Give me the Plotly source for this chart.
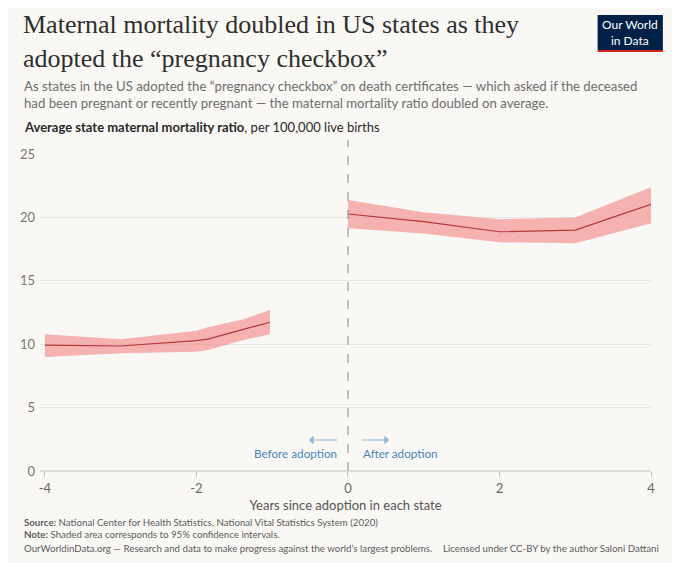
import plotly.graph_objects as go

# Years relative to adoption of the pregnancy checkbox
before_years = [-4, -3, -2, -1.85, -1.38, -1.03]
before_ratio = [9.93, 9.86, 10.28, 10.4, 11.17, 11.73]
before_upper = [10.78, 10.39, 11.06, 11.33, 11.96, 12.7]
before_lower = [9.0, 9.28, 9.41, 9.54, 10.33, 10.78]

after_years = [0, 1, 2, 3, 4]
after_ratio = [20.27, 19.66, 18.87, 19.0, 21.03]
after_upper = [21.37, 20.4, 19.85, 20.0, 22.37]
after_lower = [19.14, 18.74, 18.04, 17.96, 19.53]

y_ticks = [0, 5, 10, 15, 20, 25]
x_ticks = [-4, -2, 0, 2, 4]
x_tick_labels = ["-4", "-2", "0", "2", "4"]

W, H = 680, 563
OFF = 8  # page body margin in the screenshot
L, R, T, B = 33 - OFF, W - (651 - OFF), 154 - OFF, H - (471 - OFF)
PW, PH = W - L - R, H - T - B


def px(x):
    return (x - OFF - L) / PW


def py(y):
    return (H - B - (y - OFF)) / PH


BAND = "rgba(242,140,140,0.65)"
LINE = "#b5373a"
FONT = "Lato, 'Noto Sans', sans-serif"

fig = go.Figure()
for xs, mid, up, lo in [(before_years, before_ratio, before_upper, before_lower),
                        (after_years, after_ratio, after_upper, after_lower)]:
    fig.add_trace(go.Scatter(x=xs + xs[::-1], y=up + lo[::-1], fill="toself",
                             fillcolor=BAND, line=dict(width=0), mode="lines",
                             hoverinfo="skip", showlegend=False))
    fig.add_trace(go.Scatter(x=xs, y=mid, mode="lines", line=dict(color=LINE, width=1.2),
                             showlegend=False))

# dashed line at adoption
fig.add_shape(type="line", x0=0, x1=0, xref="x", yref="paper", y0=0, y1=py(140),
              line=dict(color="#9a9a9a", width=1.2, dash="dash"))

# logo
fig.add_shape(type="rect", xref="paper", yref="paper", x0=px(597), x1=px(663),
              y0=py(50), y1=py(15), fillcolor="#002147", line=dict(width=0), layer="above")
fig.add_shape(type="rect", xref="paper", yref="paper", x0=px(597), x1=px(663),
              y0=py(52), y1=py(50), fillcolor="#ce261e", line=dict(width=0), layer="above")

ann = [
    dict(x=px(14), y=py(41), xanchor="left", yanchor="middle", align="left",
         text="Maternal mortality doubled in US states as they<br>adopted the “pregnancy checkbox”",
         font=dict(family="'Liberation Serif', 'DejaVu Serif', serif", size=26, color="#2f2f2f")),
    dict(x=px(630), y=py(33), xanchor="center", yanchor="middle",
         text="Our World<br>in Data", font=dict(family=FONT, size=12, color="white")),
    dict(x=px(15), y=py(94), xanchor="left", yanchor="middle", align="left",
         text="As states in the US adopted the “pregnancy checkbox” on death certificates — which asked if the deceased"
              "<br>had been pregnant or recently pregnant — the maternal mortality ratio doubled on average.",
         font=dict(family=FONT, size=13.2, color="#6e6e6e")),
    dict(x=px(15), y=py(127), xanchor="left", yanchor="middle",
         text="<b>Average state maternal mortality ratio</b>, per 100,000 live births",
         font=dict(family=FONT, size=13, color="#2a2a2a")),
    dict(x=px(335), y=py(453), xanchor="right", yanchor="middle",
         text="Before adoption", font=dict(family=FONT, size=11.7, color="#4a86be")),
    dict(x=px(358), y=py(453), xanchor="left", yanchor="middle",
         text="After adoption", font=dict(family=FONT, size=11.7, color="#4a86be")),
    dict(x=px(15), y=py(522), xanchor="left", yanchor="middle",
         text="<b>Source:</b> National Center for Health Statistics, National Vital Statistics System (2020)",
         font=dict(family=FONT, size=9.7, color="#5b5b5b")),
    dict(x=px(15), y=py(534), xanchor="left", yanchor="middle",
         text="<b>Note:</b> Shaded area corresponds to 95% confidence intervals.",
         font=dict(family=FONT, size=9.7, color="#5b5b5b")),
    dict(x=px(15), y=py(548), xanchor="left", yanchor="middle",
         text="OurWorldinData.org — Research and data to make progress against the world’s largest problems.",
         font=dict(family=FONT, size=9.7, color="#5b5b5b")),
    dict(x=px(661), y=py(548), xanchor="right", yanchor="middle",
         text="Licensed under CC-BY by the author Saloni Dattani",
         font=dict(family=FONT, size=9.7, color="#5b5b5b")),
]
for a in ann:
    a.update(xref="paper", yref="paper", showarrow=False)
    fig.add_annotation(**a)

# arrows above the labels
for head, tail in [(305, 335), (386, 357)]:
    fig.add_annotation(xref="x domain", yref="y domain", x=px(head), y=py(440),
                       axref="x domain", ayref="y domain", ax=px(tail), ay=py(440),
                       text="", showarrow=True, arrowhead=1, arrowsize=1.4,
                       arrowwidth=1.1, arrowcolor="#8db4da")

fig.update_layout(
    width=W, height=H, margin=dict(l=L, r=R, t=T, b=B),
    paper_bgcolor="#f9f8f4", plot_bgcolor="#f9f8f4",
    font=dict(family=FONT, color="#666666"),
    xaxis=dict(range=[-4.065, 4], tickvals=x_ticks, ticktext=x_tick_labels,
               showgrid=False, zeroline=False, ticks="outside", ticklen=5,
               tickcolor="#c8c8c8", tickfont=dict(size=13, color="#666666"),
               title=dict(text="Years since adoption in each state",
                          font=dict(size=13, color="#555555"), standoff=6)),
    yaxis=dict(range=[0, 25], tickvals=y_ticks, showgrid=True, gridcolor="#e6e6e6",
               zeroline=True, zerolinecolor="#dddddd", ticks="", ticklabelstandoff=4,
               tickfont=dict(size=13, color="#777777")),
)

fig.write_html("out.html")
